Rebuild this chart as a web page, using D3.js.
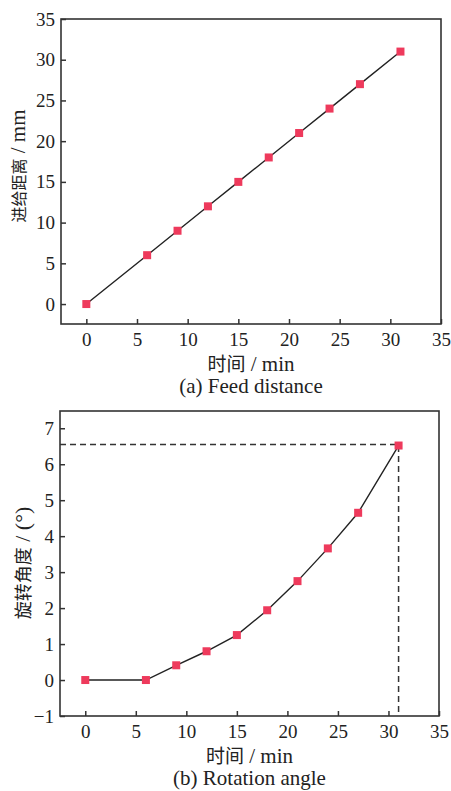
<!DOCTYPE html>
<html>
<head>
<meta charset="utf-8">
<script src="https://cdn.jsdelivr.net/npm/d3@7"></script>
<style>
body { margin: 0; background: #fff; }
text { font-family: "Liberation Serif", "Noto Sans CJK SC", serif; fill: #222; }
.cjk { font-family: "Noto Sans CJK SC", sans-serif; }
</style>
</head>
<body>
<svg width="451" height="791"></svg>
<script>
// data
var times = [0, 6, 9, 12, 15, 18, 21, 24, 27, 31];
var feed = [0, 6, 9, 12, 15, 18, 21, 24, 27, 31];
var angle = [0, 0, 0.41, 0.8, 1.25, 1.94, 2.75, 3.66, 4.65, 6.52];
var xTicks = [0, 5, 10, 15, 20, 25, 30, 35];
var feedTicks = [0, 5, 10, 15, 20, 25, 30, 35];
var angleTicks = [-1, 0, 1, 2, 3, 4, 5, 6, 7];
var markLevel = 6.55;
var markTime = 31;

var svg = d3.select('svg');
var red = '#ee3a5c';
var dark = '#333';

// text with chinese part and latin part in different sizes
function mixed(sel, cjk, latin, cjkSize, latinSize) {
    sel.append('tspan').attr('class', 'cjk').attr('font-size', cjkSize).text(cjk);
    sel.append('tspan').attr('font-size', latinSize).text(latin);
}

function panel(opt) {
    var x = d3.scaleLinear().domain([-2.5, 35]).range([opt.left, opt.right]);
    var y = d3.scaleLinear().domain(opt.ydom).range([opt.bottom, opt.top]);
    var g = svg.append('g');

    var xa = g.append('g')
        .attr('transform', 'translate(0,' + opt.bottom + ')')
        .call(d3.axisBottom(x).tickValues(xTicks).tickSizeInner(-5).tickSizeOuter(0).tickPadding(9));
    var ya = g.append('g')
        .attr('transform', 'translate(' + opt.left + ',0)')
        .call(d3.axisLeft(y).tickValues(opt.yticks).tickSizeInner(-5).tickSizeOuter(0).tickPadding(6)
            .tickFormat(function(d){ return d < 0 ? '\u2212' + Math.abs(d) : d; }));
    [xa, ya].forEach(function(a){
        a.select('.domain').remove();
        a.selectAll('line').attr('stroke', dark).attr('stroke-width', 1.5);
        a.selectAll('text').attr('font-size', 19).attr('fill', '#222')
            .style('font-family', '"Liberation Serif", serif');
    });

    g.append('rect')
        .attr('x', opt.left).attr('y', opt.top)
        .attr('width', opt.right - opt.left).attr('height', opt.bottom - opt.top)
        .attr('fill', 'none').attr('stroke', dark).attr('stroke-width', 1.6);

    if (opt.dash) {
        g.append('path')
            .attr('d', 'M' + x.range()[0] + ',' + y(markLevel) + 'H' + x(markTime) + 'V' + opt.bottom)
            .attr('fill', 'none').attr('stroke', dark).attr('stroke-width', 1.5)
            .attr('stroke-dasharray', '6,4');
    }

    var pts = times.map(function(t, i){ return [t, opt.vals[i]]; });
    g.append('path')
        .datum(pts)
        .attr('d', d3.line().x(function(d){ return x(d[0]); }).y(function(d){ return y(d[1]); }))
        .attr('fill', 'none').attr('stroke', '#222').attr('stroke-width', 1.4);

    g.selectAll('rect.pt')
        .data(pts)
        .enter()
        .append('rect')
        .attr('class', 'pt')
        .attr('x', function(d){ return x(d[0]) - 4; })
        .attr('y', function(d){ return y(d[1]) - 4; })
        .attr('width', 8).attr('height', 8)
        .attr('fill', red);

    g.append('text')
        .attr('x', (opt.left + opt.right) / 2)
        .attr('y', opt.bottom + 47)
        .style('text-anchor', 'middle')
        .call(mixed, '时间', ' / min', 19, 21);

    g.append('text')
        .text(opt.caption)
        .attr('x', (opt.left + opt.right) / 2)
        .attr('y', opt.bottom + 69)
        .attr('font-size', 21)
        .style('text-anchor', 'middle');

    g.append('text')
        .attr('transform', 'translate(' + opt.ylx + ',' + opt.ymid + ') rotate(-90)')
        .style('text-anchor', 'middle')
        .call(mixed, opt.ylabel[0], opt.ylabel[1], opt.ycjk, opt.ylat);
}

panel({left: 61, right: 441, top: 19, bottom: 324, ydom: [-2.45, 35], yticks: feedTicks,
       vals: feed, caption: '(a) Feed distance', ylabel: ['进给距离', ' / mm'], ycjk: 16, ylat: 21,
       ylx: 25, ymid: 166, dash: false});
panel({left: 60, right: 439, top: 411, bottom: 716, ydom: [-1, 7.48], yticks: angleTicks,
       vals: angle, caption: '(b) Rotation angle', ylabel: ['旋转角度', ' / (°)'], ycjk: 18, ylat: 22,
       ylx: 30, ymid: 563, dash: true});
</script>
</body>
</html>
